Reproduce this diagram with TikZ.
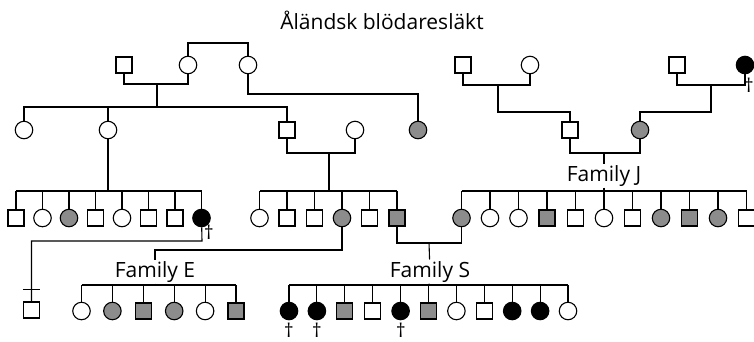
\documentclass[tikz,border=0pt]{standalone}
\usepackage{fontspec}
\setmainfont{Open Sans}
\usetikzlibrary{calc}
\definecolor{bleeder}{RGB}{140,140,140}

\begin{document}
\begin{tikzpicture}[x=1pt,y=-1pt,line width=1.1pt,
        male/.style={draw,rectangle,minimum size=16pt,inner sep=0pt,fill=white},
        female/.style={draw,circle,minimum size=17.5pt,inner sep=0pt,fill=white},
        maleg/.style={male,fill=bleeder},
        femaleg/.style={female,fill=bleeder},
        femaleb/.style={female,fill=black},
        lab/.style={font=\fontsize{21}{25}\selectfont,inner sep=1pt,anchor=base},
        dag/.style={font=\fontsize{19}{22}\selectfont,inner sep=0pt,anchor=base}]
        \useasboundingbox (0,0) rectangle (754,341);
        \node[lab] (T) at (382,29) {Åländsk blödaresläkt};
        \node[male] (A) at (124,65) {}; \node[female] (B) at (188,65) {}; \node[female] (C) at (248,65) {};
        \node[male] (D) at (463,65) {}; \node[female] (E) at (530,65) {};
        \node[male] (F) at (677,65) {}; \node[femaleb] (G) at (745,65) {};
        \node[female] (H) at (24,130) {}; \node[female] (I) at (108,130) {};
        \node[male] (J) at (287,130) {}; \node[female] (K) at (355,130) {};
        \node[femaleg] (L) at (418,130) {};
        \node[male] (M) at (570,130) {}; \node[femaleg] (N) at (640,130) {};
        \foreach \s [count=\i] in {male,female,femaleg,male,female,male,male,femaleb}
            \node[\s] (P\i) at ({16+26.5*(\i-1)},218) {};
        \foreach \s [count=\i] in {female,male,male,femaleg,male,maleg}
            \node[\s] (Q\i) at ({259.5+27.5*(\i-1)},218) {};
        \foreach \s [count=\i] in {femaleg,female,female,maleg,male,female,male,femaleg,maleg,femaleg,male}
            \node[\s] (R\i) at ({461.5+28.5*(\i-1)},218) {};
        \node[male] (U) at (31.5,310) {};
        \foreach \s [count=\i] in {female,femaleg,maleg,femaleg,female,maleg}
            \node[\s] (E\i) at ({81.5+30.9*(\i-1)},311) {};
        \foreach \s [count=\i] in {femaleb,femaleb,maleg,male,femaleb,maleg,female,male,femaleb,femaleb,female}
            \node[\s] (S\i) at ({289+27.9*(\i-1)},311) {};
        \node[lab] (FJ) at (604,181) {Family J};
        \node[lab] (FE) at (155,277) {Family E};
        \node[lab] (FS) at (430,277) {Family S};
        \node[dag] (X1) at (209,239) {†}; \node[dag] (X2) at (749,92) {†};
        \node[dag] (X3) at (289,337) {†}; \node[dag] (X4) at (317,337) {†};
        \node[dag] (X5) at (401,337) {†};
        \coordinate (BC) at (218,43);
        \coordinate (AB) at (157,84); \coordinate (AB2) at (157,107);
        \coordinate (CL) at (418,94);
        \coordinate (DE) at (498,85); \coordinate (DE2) at (498,112);
        \coordinate (FG) at (711,85); \coordinate (FG2) at (711,112);
        \coordinate (JK) at (329,153); \coordinate (JK2) at (329,191);
        \coordinate (IP) at (108,191);
        \coordinate (MN) at (604,153); \coordinate (MN2) at (604,191);
        \coordinate (PU) at (202,241);
        \coordinate (QE) at (155,250); \coordinate (EB) at (155,285);
        \coordinate (QR) at (429,243); \coordinate (SB) at (429,285);
        \draw (B) |- (BC) -| (C);
        \draw (A) |- (AB) -| (B); \draw (AB) -- (AB2);
        \draw (H) |- (AB2) -| (J); \draw (I) -- (I|-AB2);
        \draw (C) |- (CL) -- (L);
        \draw (D) |- (DE) -| (E); \draw (DE) -- (DE2) -| (M);
        \draw (F) |- (FG) -| (G); \draw (FG) -- (FG2) -| (N);
        \draw (J) |- (JK) -| (K); \draw (JK) -- (JK2);
        \draw (Q1|-JK2) -- (Q6|-JK2);
        \foreach \i in {1,...,6} \draw (Q\i) -- (Q\i|-JK2);
        \draw (I) -- (IP); \draw (P1|-IP) -- (P8|-IP);
        \foreach \i in {1,...,8} \draw (P\i) -- (P\i|-IP);
        \draw (M) |- (MN) -| (N); \draw (MN) -- (FJ); \draw (FJ) -- (MN2);
        \draw (R1|-MN2) -- (R11|-MN2);
        \foreach \i in {1,...,11} \draw (R\i) -- (R\i|-MN2);
        \draw (P8) -- (PU) -| (U);
        \draw ([yshift=12pt]U.north west) -- ([yshift=12pt]U.north east);
        \draw (Q4) |- (QE) -- (FE); \draw (FE) -- (EB);
        \draw (E1|-EB) -- (E6|-EB);
        \foreach \i in {1,...,6} \draw (E\i) -- (E\i|-EB);
        \draw (Q6) |- (QR) -| (R1); \draw (QR) -- (FS); \draw (FS) -- (SB);
        \draw (S1|-SB) -- (S11|-SB);
        \foreach \i in {1,...,11} \draw (S\i) -- (S\i|-SB);
    \end{tikzpicture}
\end{document}
